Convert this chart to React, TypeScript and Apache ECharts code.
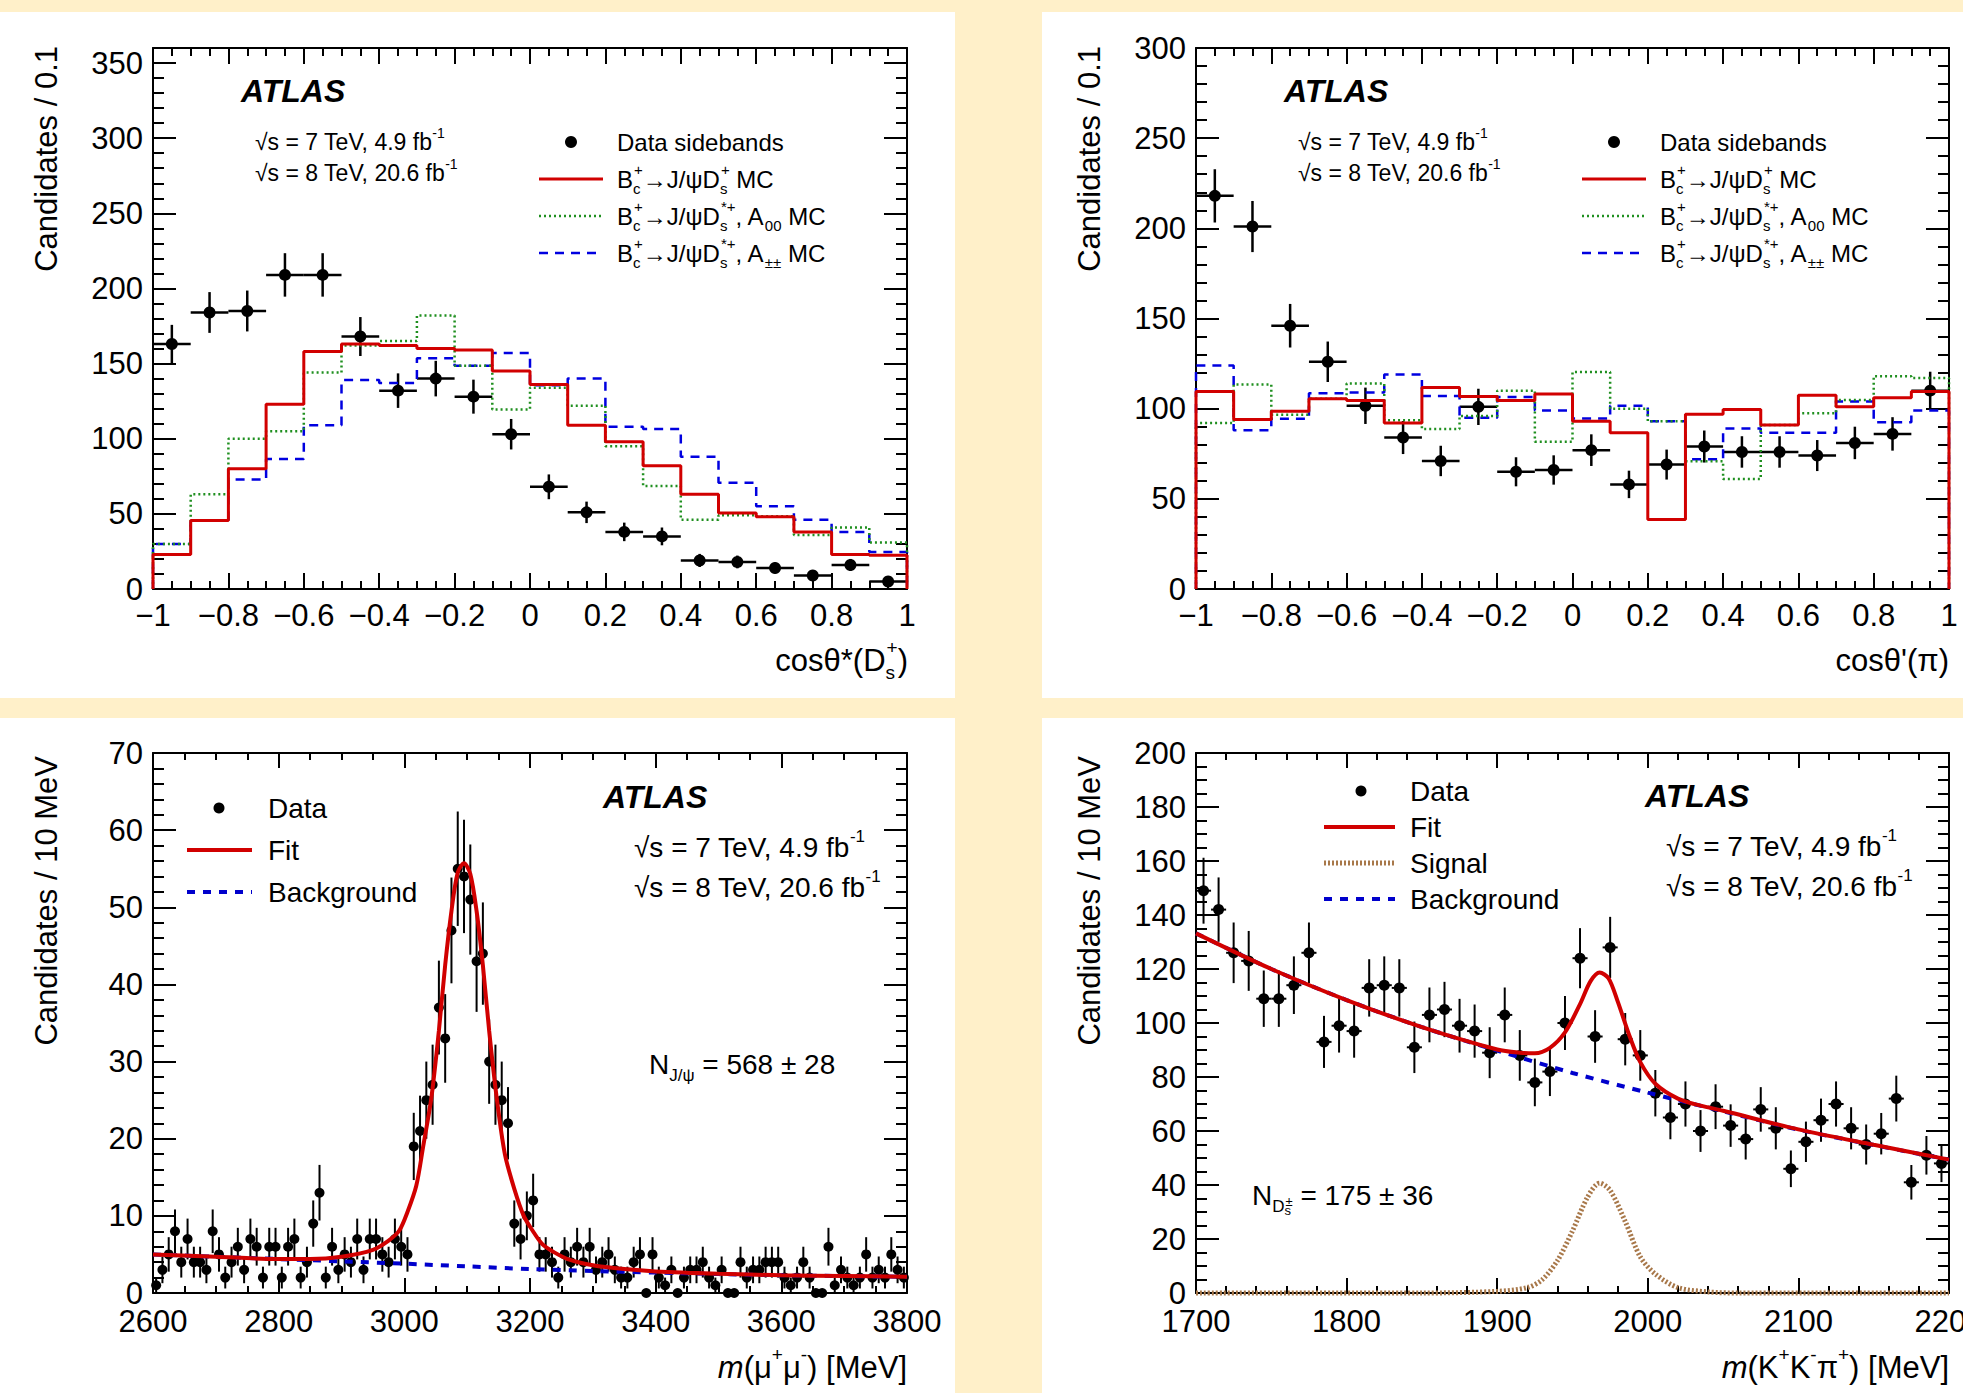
import React, { useEffect, useRef } from "react";
import * as echarts from "echarts";

const FONT = "'Liberation Sans', Arial, Helvetica, sans-serif";
const BG = "#FFF0C9";
const RED = "#D10000";
const GREEN = "#1F8F1F";
const BLUE = "#0000E0";
const BROWN = "#A8784A";

// ---------- Panel A: cos theta*(Ds+) ----------
const cosLow = [-1, -0.9, -0.8, -0.7, -0.6, -0.5, -0.4, -0.3, -0.2, -0.1, 0, 0.1, 0.2, 0.3, 0.4, 0.5, 0.6, 0.7, 0.8, 0.9];
const cosBinWidth = 0.1;
const aData = [163, 184, 185, 209, 209, 168, 132, 140, 128, 103, 68, 51, 38, 35, 19, 18, 14, 9, 16, 5];
const aRed = [23, 45.5, 80, 123, 158, 163, 162, 160, 159, 145, 136, 109, 98, 82, 63, 50.5, 48, 38, 23, 22.5];
const aGreen = [30, 63, 100, 105, 144, 162, 165, 182, 148.5, 119.5, 134, 122, 95, 68.6, 46, 49, 48.4, 36, 41, 31];
const aBlue = [30, 45.5, 72.8, 86.5, 109, 139, 137, 153.6, 148.5, 157, 135.5, 140, 108, 106.4, 88, 70.7, 55, 46, 38, 24.7];

// ---------- Panel B: cos theta'(pi) ----------
const bData = [218, 201, 146, 126, 101.6, 84, 71, 101, 65, 66, 77, 58, 69, 79, 76, 76, 74, 81, 86, 110];
const bRed = [109.5, 94, 98.6, 105.5, 104.5, 92, 111.7, 106.8, 104.5, 108.2, 93, 86.7, 38.6, 96.9, 99.6, 91, 107.5, 101, 106, 109.5];
const bGreen = [92, 113.4, 96.6, 105.5, 114, 93.6, 88.7, 96, 110, 81.7, 120.4, 100, 93, 70.8, 61, 91, 97.4, 104.8, 118, 117];
const bBlue = [124, 88, 94.4, 108.5, 109, 119, 107, 95, 106.5, 99, 94.6, 101.6, 93, 72, 89, 86.7, 86.7, 104, 92.4, 99];

// ---------- Panel C: m(mu+ mu-) ----------
const mumuStart = 2600;
const mumuStep = 10;
const mumuCounts = [
  1, 3, 5, 8, 4, 7, 4, 4, 3, 8,
  5, 2, 4, 6, 3, 7, 6, 2, 6, 6,
  2, 6, 7, 2, 4, 9, 13, 2, 6, 3,
  5, 4, 7, 3, 7, 7, 5, 4, 7, 6,
  5, 19, 21, 25, 27, 37, 33, 47, 55, 54,
  51, 43, 44, 30, 27, 25, 22, 9, 7, 10,
  12, 5, 5, 4, 2, 5, 4, 6, 4, 6,
  3, 4, 5, 3, 2, 2, 4, 5, 0, 5,
  2, 1, 3, 0, 2, 3, 3, 4, 2, 1,
  3, 0, 0, 4, 2, 3, 3, 4, 4, 4,
  2, 1, 2, 4, 2, 0, 0, 6, 1, 3,
  2, 1, 2, 5, 2, 3, 2, 5, 3, 2,
];
const mumuFit = [
  [2600, 5.0], [2700, 4.7], [2800, 4.4], [2850, 4.4], [2900, 4.7], [2950, 5.6], [2975, 6.8], [2992, 8.1],
  [3005, 10.5], [3019, 13.9], [3030, 19], [3043, 25.3], [3055, 34], [3065, 42.5], [3075, 49.5], [3085, 54.5],
  [3095, 55.7], [3105, 54.3], [3115, 49.5], [3125, 42.5], [3135, 34], [3147, 25.3], [3160, 18], [3175, 13.5],
  [3190, 10], [3204, 8.1], [3220, 6.3], [3238, 5.3], [3260, 4.4], [3300, 3.6], [3350, 3.1], [3400, 2.8],
  [3500, 2.5], [3600, 2.3], [3700, 2.2], [3800, 2.1],
];
const mumuBkg = [
  [2600, 5.0], [2700, 4.7], [2800, 4.4], [2900, 4.1], [3000, 3.8], [3100, 3.45], [3200, 3.1], [3300, 2.85],
  [3400, 2.65], [3500, 2.45], [3600, 2.3], [3700, 2.2], [3800, 2.1],
];

// ---------- Panel D: m(K+ K- pi+) ----------
const kkpiStart = 1700;
const kkpiStep = 10;
const kkpiCounts = [
  149, 142, 126, 123, 109, 109, 114, 126, 93, 99,
  97, 113, 114, 113, 91, 103, 105, 99, 97, 89,
  103, 88, 78, 82, 100, 124, 95, 128, 94, 88,
  74, 65, 70, 60, 69, 62, 57, 68, 61, 46,
  56, 64, 70, 61, 55, 59, 72, 41, 51, 48,
];
const kkpiFit = [
  [1700, 133.2], [1750, 120], [1800, 108.5], [1850, 98.5], [1900, 90.2], [1915, 89], [1925, 88.8], [1935, 90.8],
  [1945, 96.5], [1955, 107], [1962, 115.5], [1968, 118.7], [1974, 116.5], [1980, 108], [1988, 95], [1995, 85.5],
  [2005, 77.5], [2020, 72], [2035, 69.4], [2050, 67.5], [2100, 60.6], [2150, 54.9], [2200, 49.4],
];
const kkpiBkg = [
  [1700, 133.2], [1750, 120], [1800, 108.5], [1850, 98.5], [1900, 89.8], [1950, 81.5], [2000, 74.2],
  [2050, 67.3], [2100, 60.5], [2150, 54.8], [2200, 49.4],
];
const kkpiSig = [
  [1700, 0], [1850, 0], [1900, 0.6], [1920, 2], [1930, 5], [1940, 12], [1950, 23], [1960, 35.5], [1968, 40.7],
  [1975, 38], [1985, 26.5], [1995, 13.4], [2005, 7], [2020, 2], [2040, 0.4], [2060, 0], [2200, 0],
];

// ---------- helpers ----------
const tickLine = { color: "#000", width: 2 };

function axis(
  gridIndex: number, position: string, min: number, max: number, interval: number,
  minorSplit: number, majLen: number, minLen: number, label: any, extra: any = {}
) {
  return {
    type: "value", gridIndex, position, min, max, interval,
    axisLine: { show: true, onZero: false, lineStyle: { color: "#000", width: 2 } },
    axisTick: { show: true, inside: true, length: majLen, lineStyle: tickLine },
    minorTick: { show: minorSplit > 1, splitNumber: minorSplit > 1 ? minorSplit : 5, length: minLen, lineStyle: tickLine },
    splitLine: { show: false },
    minorSplitLine: { show: false },
    axisLabel: label
      ? {
          show: true, margin: label.margin, fontSize: 31, fontFamily: FONT, color: "#000",
          formatter: label.formatter || ((v: number) => String(v)),
          showMaxLabel: label.showMax !== false, showMinLabel: true, hideOverlap: false,
        }
      : { show: false },
    axisPointer: { show: false },
    ...extra,
  };
}

function histData(low: number[], w: number, vals: number[]) {
  const d: number[][] = [[low[0], 0]];
  vals.forEach((v, i) => d.push([low[i], v]));
  const end = +(low[low.length - 1] + w).toFixed(6);
  d.push([end, vals[vals.length - 1]]);
  d.push([end, 0]);
  return d;
}

function histSeries(xi: number, yi: number, vals: number[], color: string, width: number, dash: any, z: number) {
  return {
    type: "line", xAxisIndex: xi, yAxisIndex: yi, step: "end", symbol: "none", showSymbol: false,
    data: histData(cosLow, cosBinWidth, vals), lineStyle: { color, width, type: dash }, z, silent: true, clip: false,
  };
}

function pointsSeries(xi: number, yi: number, centers: number[], vals: number[], halfW: number, r: number, lw: number) {
  return {
    type: "custom", xAxisIndex: xi, yAxisIndex: yi, silent: true, clip: false, z: 3,
    data: vals.map((v, i) => [centers[i], v, Math.sqrt(v)]),
    encode: { x: 0, y: 1 },
    renderItem: (_p: any, api: any) => {
      const x = api.value(0);
      const y = api.value(1);
      const e = api.value(2);
      const c = api.coord([x, y]);
      const l = api.coord([x - halfW, y]);
      const rr = api.coord([x + halfW, y]);
      const t = api.coord([x, y + e]);
      const b = api.coord([x, y - e]);
      return {
        type: "group",
        children: [
          { type: "line", shape: { x1: l[0], y1: c[1], x2: rr[0], y2: c[1] }, style: { stroke: "#000", lineWidth: lw } },
          { type: "line", shape: { x1: c[0], y1: t[1], x2: c[0], y2: b[1] }, style: { stroke: "#000", lineWidth: lw } },
          { type: "circle", shape: { cx: c[0], cy: c[1], r }, style: { fill: "#000" } },
        ],
      };
    },
  };
}

function curveSeries(xi: number, yi: number, data: number[][], color: string, width: number, dash: any, z: number) {
  return {
    type: "line", xAxisIndex: xi, yAxisIndex: yi, smooth: 0.3, symbol: "none", showSymbol: false,
    data, lineStyle: { color, width, type: dash }, z, silent: true, clip: false,
  };
}

function rich(F: number) {
  const base = { fontFamily: FONT, fill: "#000", align: "left" };
  const s = Math.round(F * 0.62);
  return {
    n: { ...base, fontSize: F, lineHeight: Math.round(F * 1.5) },
    i: { ...base, fontSize: F, fontStyle: "italic", lineHeight: Math.round(F * 1.5) },
    sup: { ...base, fontSize: s, verticalAlign: "top", height: Math.round(F * 0.72) },
    sub: { ...base, fontSize: s, verticalAlign: "bottom", height: Math.round(F * 0.7) },
    bs: { ...base, fontSize: s, verticalAlign: "bottom", height: Math.round(F * 0.7), width: 1 },
    ssb: { ...base, fontSize: Math.round(F * 0.45), verticalAlign: "bottom", height: Math.round(F * 0.4), width: 1 },
    ssp: { ...base, fontSize: Math.round(F * 0.45), verticalAlign: "bottom", height: Math.round(F * 1.05) },
  };
}

function txt(x: number, y: number, text: string, F: number, extra: any = {}) {
  return {
    type: "text", x, y, z: 20, silent: true,
    style: { text, rich: rich(F), fontSize: F, fontFamily: FONT, fill: "#000", align: "left", verticalAlign: "middle", ...extra },
  };
}

function plain(x: number, y: number, text: string, F: number, extra: any = {}, rotation = 0) {
  return {
    type: "text", x, y, z: 20, rotation, silent: true,
    style: { text, fontSize: F, fontFamily: FONT, fill: "#000", align: "left", verticalAlign: "middle", ...extra },
  };
}

function hline(x1: number, x2: number, y: number, color: string, w: number, dash?: number[]) {
  return {
    type: "line", z: 20, silent: true,
    shape: { x1, y1: y, x2, y2: y },
    style: { stroke: color, lineWidth: w, lineDash: dash },
  };
}

function dot(cx: number, cy: number, r: number) {
  return { type: "circle", z: 20, silent: true, shape: { cx, cy, r }, style: { fill: "#000" } };
}

const minusFmt = (v: number) => {
  const s = (Math.round(v * 10) / 10).toString();
  return s.replace("-", "\u2212");
};

const sqrt7 = "{n|\u221As = 7 TeV, 4.9 fb}{sup|-1}";
const sqrt8 = "{n|\u221As = 8 TeV, 20.6 fb}{sup|-1}";
const decayDs = "{n|B}{bs|c}{sup|+}{n|\u2192J/\u03C8D}{bs|s}{sup|+}{n| MC}";
const decayA00 = "{n|B}{bs|c}{sup|+}{n|\u2192J/\u03C8D}{bs|s}{sup|*+}{n|, A}{sub|00}{n| MC}";
const decayApp = "{n|B}{bs|c}{sup|+}{n|\u2192J/\u03C8D}{bs|s}{sup|*+}{n|, A}{sub|\u00B1\u00B1}{n| MC}";

function topPanelGraphics(ox: number, xTitle: string, yTitle: string) {
  return [
    plain(241 + ox, 91, "ATLAS", 32, { fontWeight: "bold", fontStyle: "italic" }),
    txt(255 + ox, 142, sqrt7, 23),
    txt(255 + ox, 173, sqrt8, 23),
    dot(571 + ox, 142, 6),
    hline(539 + ox, 603 + ox, 179, RED, 3),
    hline(539 + ox, 603 + ox, 216, GREEN, 2.5, [2, 3]),
    hline(539 + ox, 603 + ox, 253, BLUE, 2.5, [9, 7]),
    txt(617 + ox, 142, "{n|Data sidebands}", 24),
    txt(617 + ox, 179, decayDs, 24),
    txt(617 + ox, 216, decayA00, 24),
    txt(617 + ox, 253, decayApp, 24),
    plain(46 + ox, 46, yTitle, 31, { align: "right" }, Math.PI / 2),
    txt(ox === 0 ? 908 : 1949, 660, xTitle, 31, { align: "right" }),
  ];
}

function buildOption() {
  const grids = [
    { left: 153, top: 48, width: 754, height: 541 },
    { left: 1196, top: 48, width: 753, height: 541 },
    { left: 153, top: 753, width: 754, height: 540 },
    { left: 1196, top: 753, width: 753, height: 540 },
  ].map((g) => ({ ...g, containLabel: false, outerBoundsMode: "none", show: false }));

  const xAxis = [
    axis(0, "bottom", -1, 1, 0.2, 4, 16, 8, { margin: 11, formatter: minusFmt }),
    axis(0, "top", -1, 1, 0.2, 4, 16, 8, null),
    axis(1, "bottom", -1, 1, 0.2, 4, 16, 8, { margin: 11, formatter: minusFmt }),
    axis(1, "top", -1, 1, 0.2, 4, 16, 8, null),
    axis(2, "bottom", 2600, 3800, 200, 4, 15, 7, { margin: 13 }),
    axis(2, "top", 2600, 3800, 200, 4, 15, 7, null),
    axis(3, "bottom", 1700, 2200, 100, 5, 15, 7, { margin: 13 }),
    axis(3, "top", 1700, 2200, 100, 5, 15, 7, null),
  ];

  const yAxis = [
    // TL: major (interval 50) + separate minor (interval 10)
    axis(0, "left", 0, 360, 50, 0, 23, 11, { margin: 10, showMax: false }),
    axis(0, "right", 0, 360, 50, 0, 23, 11, null),
    axis(0, "left", 0, 360, 10, 0, 11, 11, null, { axisLine: { show: false, onZero: false } }),
    axis(0, "right", 0, 360, 10, 0, 11, 11, null, { axisLine: { show: false, onZero: false } }),
    // TR
    axis(1, "left", 0, 300, 50, 5, 23, 11, { margin: 10 }),
    axis(1, "right", 0, 300, 50, 5, 23, 11, null),
    // BL
    axis(2, "left", 0, 70, 10, 5, 23, 11, { margin: 10 }),
    axis(2, "right", 0, 70, 10, 5, 23, 11, null),
    // BR
    axis(3, "left", 0, 200, 20, 4, 23, 11, { margin: 10 }),
    axis(3, "right", 0, 200, 20, 4, 23, 11, null),
  ];

  const cosCenters = cosLow.map((v) => +(v + cosBinWidth / 2).toFixed(6));
  const mumuCenters = mumuCounts.map((_, i) => mumuStart + mumuStep * (i + 0.5));
  const kkpiCenters = kkpiCounts.map((_, i) => kkpiStart + kkpiStep * (i + 0.5));

  const series: any[] = [
    // TL
    pointsSeries(0, 0, cosCenters, aData, cosBinWidth / 2, 6, 2.5),
    histSeries(0, 0, aBlue, BLUE, 2.5, [9, 7], 4),
    histSeries(0, 0, aGreen, GREEN, 2.5, [2, 3], 5),
    histSeries(0, 0, aRed, RED, 3, "solid", 6),
    // TR
    pointsSeries(2, 4, cosCenters, bData, cosBinWidth / 2, 6, 2.5),
    histSeries(2, 4, bBlue, BLUE, 2.5, [9, 7], 4),
    histSeries(2, 4, bGreen, GREEN, 2.5, [2, 3], 5),
    histSeries(2, 4, bRed, RED, 3, "solid", 6),
    // BL
    pointsSeries(4, 6, mumuCenters, mumuCounts, mumuStep / 2, 5, 2),
    curveSeries(4, 6, mumuBkg, "#0000CC", 4, [8, 8], 4),
    curveSeries(4, 6, mumuFit, RED, 4, "solid", 5),
    // BR
    pointsSeries(6, 8, kkpiCenters, kkpiCounts, kkpiStep / 2, 5.5, 2),
    curveSeries(6, 8, kkpiSig, BROWN, 5, [2, 2], 4),
    curveSeries(6, 8, kkpiBkg, "#0000CC", 4, [8, 8], 4),
    curveSeries(6, 8, kkpiFit, RED, 4, "solid", 5),
  ];

  const elements: any[] = [
    { type: "rect", z: -10, silent: true, shape: { x: 0, y: 12, width: 955, height: 686 }, style: { fill: "#fff" } },
    { type: "rect", z: -10, silent: true, shape: { x: 1042, y: 12, width: 921, height: 686 }, style: { fill: "#fff" } },
    { type: "rect", z: -10, silent: true, shape: { x: 0, y: 718, width: 955, height: 675 }, style: { fill: "#fff" } },
    { type: "rect", z: -10, silent: true, shape: { x: 1042, y: 718, width: 921, height: 675 }, style: { fill: "#fff" } },
    ...topPanelGraphics(0, "{n|cos\u03B8*(D}{bs|s}{sup|+}{n|)}", "Candidates / 0.1"),
    ...topPanelGraphics(1043, "{n|cos\u03B8'(\u03C0)}", "Candidates / 0.1"),
    // BL
    plain(603, 797, "ATLAS", 32, { fontWeight: "bold", fontStyle: "italic" }),
    txt(634, 847, sqrt7, 28),
    txt(634, 887, sqrt8, 28),
    dot(219, 808, 5.5),
    hline(187, 252, 850, RED, 4),
    hline(187, 252, 892, "#0000CC", 4, [8, 8]),
    txt(268, 808, "{n|Data}", 28),
    txt(268, 850, "{n|Fit}", 28),
    txt(268, 892, "{n|Background}", 28),
    txt(649, 1064, "{n|N}{sub|J/\u03C8}{n| = 568 \u00B1 28}", 28),
    plain(46, 756, "Candidates / 10 MeV", 31, { align: "right" }, Math.PI / 2),
    txt(907, 1367, "{i|m}{n|(\u03BC}{sup|+}{n|\u03BC}{sup|-}{n|) [MeV]}", 31, { align: "right" }),
    // BR
    plain(1645, 796, "ATLAS", 32, { fontWeight: "bold", fontStyle: "italic" }),
    txt(1666, 846, sqrt7, 28),
    txt(1666, 886, sqrt8, 28),
    dot(1361, 791, 5.5),
    hline(1324, 1395, 827, RED, 4),
    hline(1324, 1395, 863, BROWN, 5, [2, 2]),
    hline(1324, 1395, 899, "#0000CC", 4, [8, 8]),
    txt(1410, 791, "{n|Data}", 28),
    txt(1410, 827, "{n|Fit}", 28),
    txt(1410, 863, "{n|Signal}", 28),
    txt(1410, 899, "{n|Background}", 28),
    txt(1252, 1195, "{n|N}{sub|D}{ssb|s}{ssp|\u00B1}{n| = 175 \u00B1 36}", 28),
    plain(1089, 756, "Candidates / 10 MeV", 31, { align: "right" }, Math.PI / 2),
    txt(1949, 1367, "{i|m}{n|(K}{sup|+}{n|K}{sup|-}{n|\u03C0}{sup|+}{n|) [MeV]}", 31, { align: "right" }),
  ];

  return {
    animation: false,
    backgroundColor: BG,
    grid: grids,
    xAxis,
    yAxis,
    series,
    graphic: { elements },
  };
}

export default function App() {
  const ref = useRef<HTMLDivElement>(null);
  useEffect(() => {
    document.body.style.margin = "0";
    const chart = echarts.init(ref.current!, undefined, { renderer: "svg" });
    chart.setOption(buildOption() as any);
    return () => chart.dispose();
  }, []);
  return <div ref={ref} style={{ width: 1963, height: 1393, overflow: "hidden" }} />;
}
